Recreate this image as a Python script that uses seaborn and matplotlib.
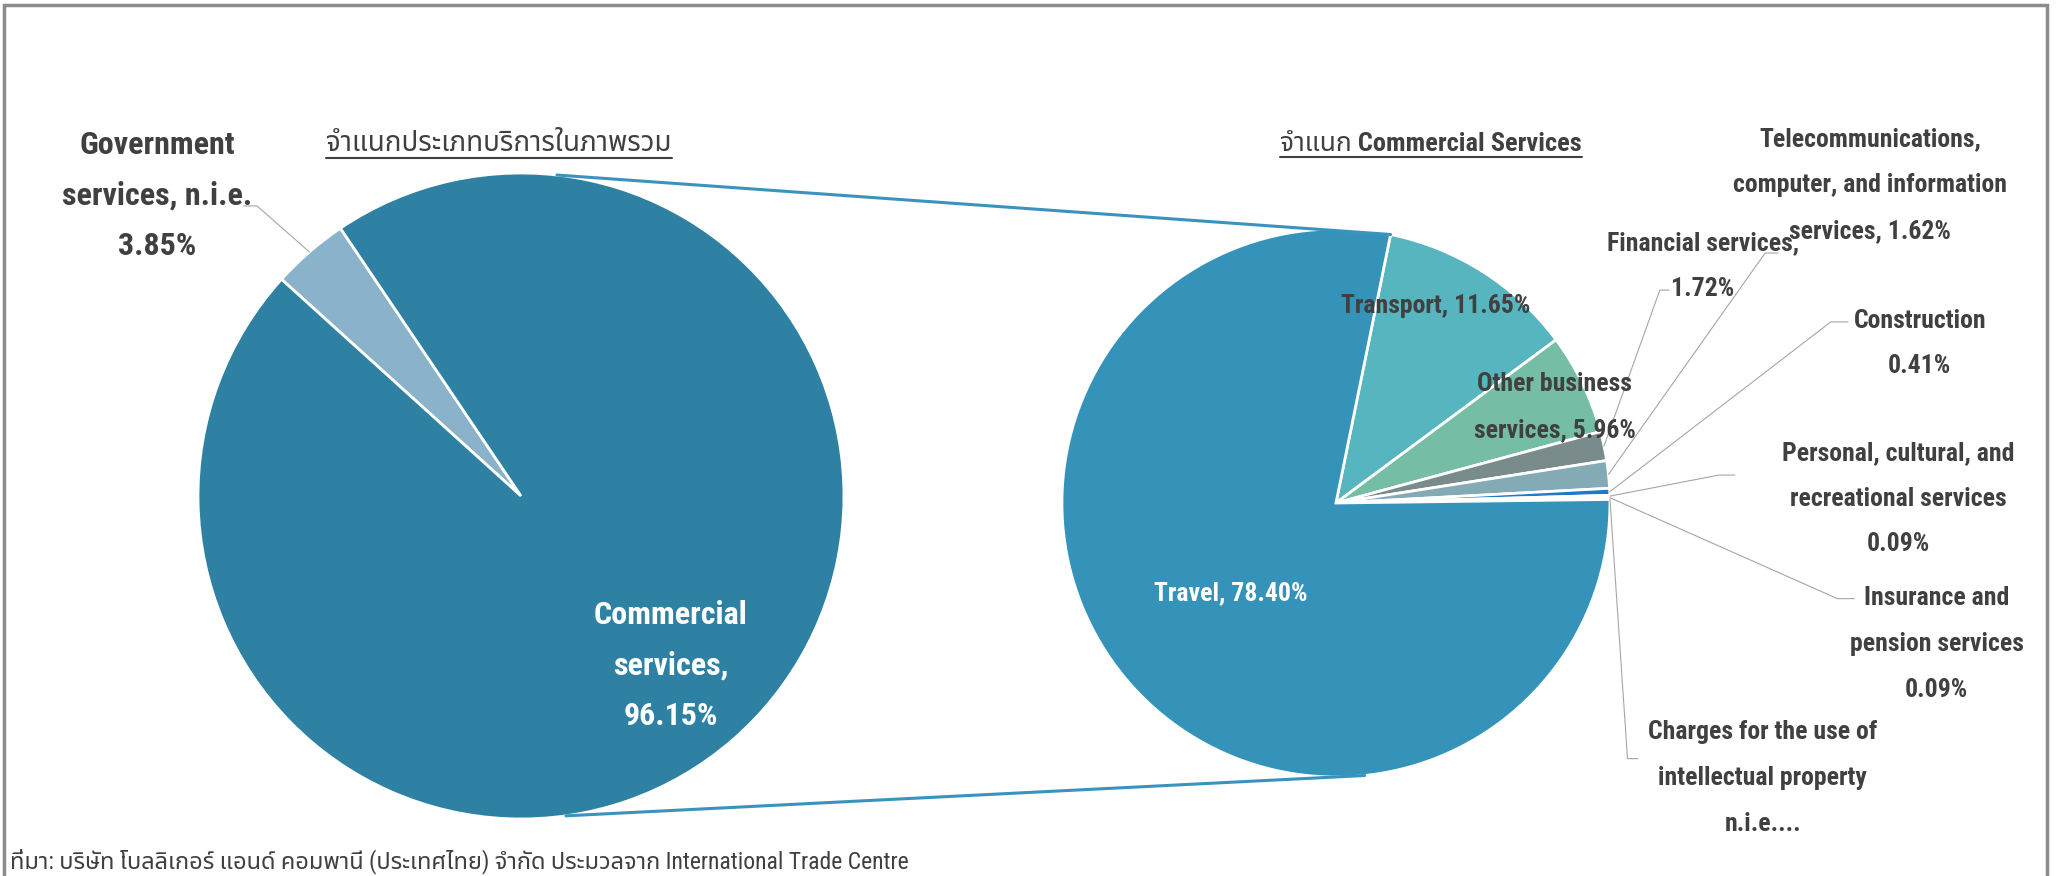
import numpy as np
import matplotlib
matplotlib.use("Agg")
import matplotlib.pyplot as plt
import seaborn as sns
from matplotlib.patches import ConnectionPatch, Rectangle
from matplotlib.lines import Line2D

# left pie: all services
overall_names = ["Government\nservices, n.i.e.", "Commercial\nservices,"]
overall_values = [3.85, 96.15]
overall_colors = ["#8AB3CB", "#2E81A3"]

# right pie: commercial services, clockwise from the top
commercial_names = ["Transport", "Other business\nservices", "Financial services,",
                    "Telecommunications,\ncomputer, and information\nservices",
                    "Construction", "Personal, cultural, and\nrecreational services",
                    "Insurance and\npension services",
                    "Charges for the use of\nintellectual property\nn.i.e....", "Travel"]
commercial_values = [11.65, 5.96, 1.72, 1.62, 0.41, 0.09, 0.09, 0.06, 78.40]
commercial_colors = ["#57B5BF", "#76BDA6", "#7A8B8B", "#84ABB5", "#1F78C8",
                     "#5B9BD5", "#A5A5A5", "#4472C4", "#3593BA"]
# how the percentage is joined to the name (None = no percentage shown)
commercial_seps = [", ", ", ", "\n", ", ", "\n", "\n", "\n", None, ", "]

title_left = "จำแนกประเภทบริการในภาพรวม"
title_right = "จำแนก Commercial Services"
source_note = "ที่มา: บริษัท โบลลิเกอร์ แอนด์ คอมพานี (ประเทศไทย) จำกัด ประมวลจาก International Trade Centre"

sns.set_theme(style="white")
plt.rcParams["font.family"] = ["Roboto Condensed", "Noto Sans Thai", "DejaVu Sans"]
txt = "#404040"
grey = "#A6A6A6"

fig = plt.figure(figsize=(20.58, 8.76), dpi=100)
ax1 = fig.add_axes([0.0962, 0.0651, 0.3139, 0.7374])
ax2 = fig.add_axes([0.5160, 0.1130, 0.2663, 0.6256])

w1, _ = ax1.pie(overall_values, colors=overall_colors, startangle=124, counterclock=True,
                wedgeprops=dict(edgecolor="white", linewidth=2))
w2, _ = ax2.pie(commercial_values, colors=commercial_colors, startangle=78.5, counterclock=False,
                wedgeprops=dict(edgecolor="white", linewidth=2))
for ax in (ax1, ax2):
    ax.set_xlim(-1, 1)
    ax.set_ylim(-1, 1)
    ax.axis("off")

def mid_edge(w):
    a = np.deg2rad((w.theta1 + w.theta2) / 2)
    return np.cos(a), np.sin(a)

# left labels
ax1.text(-1.127, 0.930, f"{overall_names[0]}\n{overall_values[0]:.2f}%", ha="center", va="center",
         fontsize=23, fontweight="bold", color=txt, linespacing=1.85)
ax1.text(0.464, -0.525, f"{overall_names[1]}\n{overall_values[1]:.2f}%", ha="center", va="center",
         fontsize=23, fontweight="bold", color="white", linespacing=1.85)
ex, ey = mid_edge(w1[0])
ax1.plot([ex, -0.817, -0.858], [ey, 0.898, 0.898], color=grey, lw=0.8, clip_on=False)

# right labels: position of text block, leader elbow and leader end (None = inside)
label_pos = [(0.365, 0.719), (0.799, 0.349), (1.339, 0.863), (1.949, 1.161), (2.131, 0.582),
             (2.051, 0.016), (2.193, -0.514), (1.558, -1.003), (-0.383, -0.328)]
leaders = [None, None, ((1.182, 0.777), (1.216, 0.777)), ((1.566, 0.912), (1.614, 0.912)),
           ((1.806, 0.661), (1.869, 0.661)), ((1.398, 0.102), (1.456, 0.102)),
           ((1.830, -0.349), (1.892, -0.349)), ((1.064, -0.933), (1.102, -0.933)), None]

for i, (name, val, sep) in enumerate(zip(commercial_names, commercial_values, commercial_seps)):
    label = name if sep is None else f"{name}{sep}{val:.2f}%"
    col = "white" if name == "Travel" else txt
    ax2.text(*label_pos[i], label, ha="center", va="center", fontsize=18.5,
             fontweight="bold", color=col, linespacing=2.15)
    if leaders[i] is not None:
        ex, ey = mid_edge(w2[i])
        (bx, by), (cx, cy) = leaders[i]
        ax2.plot([ex, bx, cx], [ey, by, cy], color=grey, lw=0.8, clip_on=False)

# connector lines between the two pies
link = "#3A93BD"
for a_left, a_right in [(83.6, w2[0].theta2), (-82, -84)]:
    pa = (np.cos(np.deg2rad(a_left)), np.sin(np.deg2rad(a_left)))
    pb = (np.cos(np.deg2rad(a_right)), np.sin(np.deg2rad(a_right)))
    con = ConnectionPatch(xyA=pa, coordsA=ax1.transData, xyB=pb, coordsB=ax2.transData,
                          color=link, lw=2.2)
    fig.add_artist(con)

# titles (underlined)
t1 = ax1.text(-0.068, 1.090, title_left, ha="center", va="center", fontsize=20,
              fontweight="bold", color=txt)
t2 = ax2.text(0.347, 1.310, title_right, ha="center", va="center", fontsize=19,
              fontweight="bold", color=txt)

fig.text(10 / 2058, 1 - 861 / 876, source_note, ha="left", va="center", fontsize=17, color=txt)

fig.add_artist(Rectangle((0.002, -0.05), 0.9925, 1.044, transform=fig.transFigure,
                         fill=False, edgecolor="#8C8C8C", lw=2.5))

fig.canvas.draw()
inv = fig.transFigure.inverted()
for t in (t1, t2):
    bb = t.get_window_extent()
    (x0, y0), (x1, _) = inv.transform([(bb.x0, bb.y0 - 1), (bb.x1, bb.y0)])
    fig.add_artist(Line2D([x0, x1], [y0, y0], transform=fig.transFigure, color=txt, lw=1.5))

fig.savefig("out.png", dpi=100)
